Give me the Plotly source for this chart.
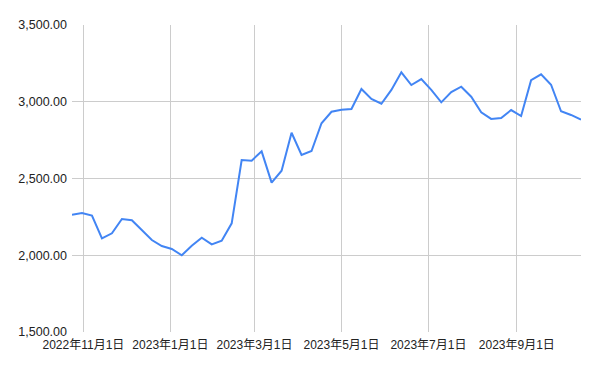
import plotly.graph_objects as go

dates = [
    "2022-10-24", "2022-10-31", "2022-11-07", "2022-11-14", "2022-11-21", "2022-11-28",
    "2022-12-05", "2022-12-12", "2022-12-19", "2022-12-26", "2023-01-02", "2023-01-09",
    "2023-01-16", "2023-01-23", "2023-01-30", "2023-02-06", "2023-02-13", "2023-02-20",
    "2023-02-27", "2023-03-06", "2023-03-13", "2023-03-20", "2023-03-27", "2023-04-03",
    "2023-04-10", "2023-04-17", "2023-04-24", "2023-05-01", "2023-05-08", "2023-05-15",
    "2023-05-22", "2023-05-29", "2023-06-05", "2023-06-12", "2023-06-19", "2023-06-26",
    "2023-07-03", "2023-07-10", "2023-07-17", "2023-07-24", "2023-07-31", "2023-08-07",
    "2023-08-14", "2023-08-21", "2023-08-28", "2023-09-04", "2023-09-11", "2023-09-18",
    "2023-09-25", "2023-10-02", "2023-10-09", "2023-10-16",
]

values = [
    2264, 2275, 2258, 2110, 2143, 2236, 2228, 2164, 2099, 2060, 2041, 2000,
    2062, 2114, 2071, 2095, 2208, 2620, 2616, 2677, 2473, 2551, 2798, 2653,
    2679, 2860, 2935, 2948, 2953, 3083, 3018, 2987, 3077, 3192, 3109, 3148,
    3077, 2996, 3063, 3098, 3033, 2931, 2888, 2894, 2946, 2907, 3140, 3179,
    3111, 2938, 2914, 2883,
]

x_tick_vals = ["2022-11-01", "2023-01-01", "2023-03-01", "2023-05-01", "2023-07-01", "2023-09-01"]
x_tick_text = ["2022年11月1日", "2023年1月1日", "2023年3月1日", "2023年5月1日", "2023年7月1日", "2023年9月1日"]

y_tick_vals = [1500, 2000, 2500, 3000, 3500]

font_family = "Liberation Sans, Arial, Noto Sans CJK JP, sans-serif"

fig = go.Figure()
fig.add_trace(go.Scatter(
    x=dates, y=values, mode="lines",
    line=dict(color="#4285F4", width=2),
    hoverinfo="x+y",
))

fig.update_layout(
    width=600, height=371,
    margin=dict(l=72, r=19, t=25, b=39),
    paper_bgcolor="white", plot_bgcolor="white",
    showlegend=False,
    font=dict(family=font_family, size=12, color="#222222"),
    xaxis=dict(
        type="date",
        range=[dates[0], dates[-1]],
        tickmode="array", tickvals=x_tick_vals, ticktext=x_tick_text,
        showgrid=True, gridcolor="#cccccc", gridwidth=1,
        zeroline=False, showline=False, ticks="",
        ticklabelstandoff=4,
        tickfont=dict(size=12, color="#222222"),
    ),
    yaxis=dict(
        range=[1500, 3500],
        tickmode="array", tickvals=y_tick_vals,
        tickformat=",.2f",
        showgrid=True, gridcolor="#cccccc", gridwidth=1,
        zeroline=False, showline=False, ticks="",
        ticklabelstandoff=4,
        tickfont=dict(size=12.5, color="#222222"),
    ),
)

fig.write_html("out.html")
